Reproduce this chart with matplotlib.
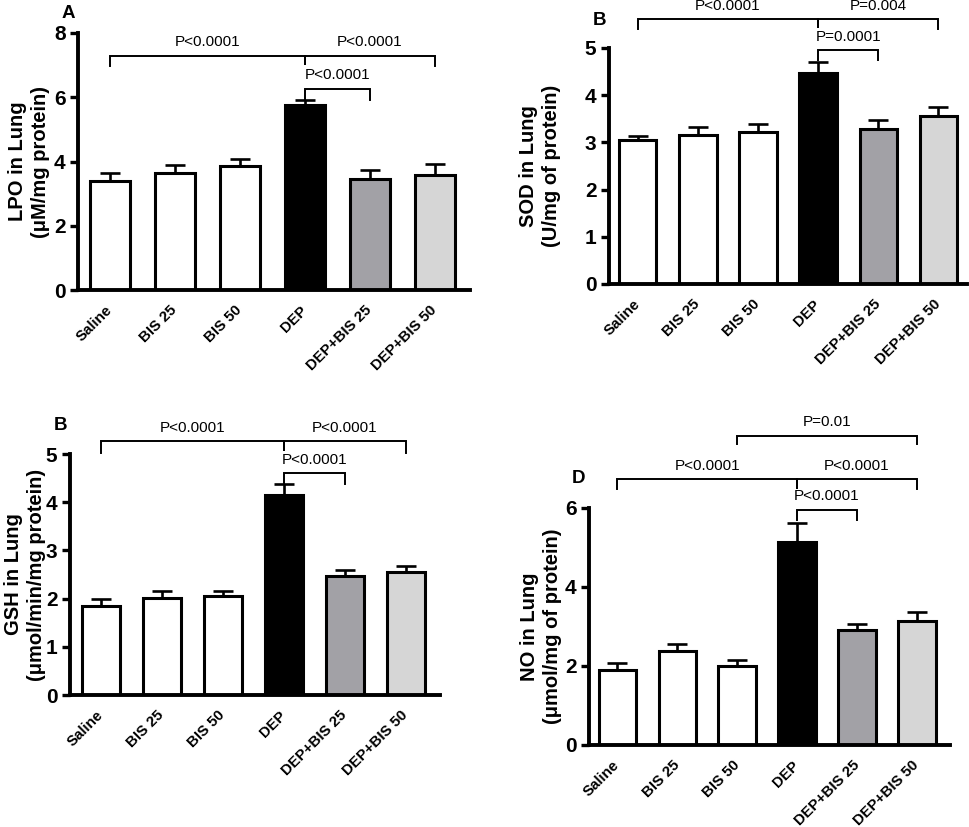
import matplotlib
matplotlib.use("Agg")
import matplotlib.pyplot as plt

plt.rcParams['font.family'] = ['Liberation Sans', 'DejaVu Sans']

groups = ["Saline", "BIS 25", "BIS 50", "DEP", "DEP+BIS 25", "DEP+BIS 50"]
bar_colors = ["white", "white", "white", "black", "#a2a1a6", "#d6d6d6"]

lpo_mean = [3.38, 3.64, 3.86, 5.75, 3.47, 3.57]
lpo_sem = [0.26, 0.26, 0.21, 0.17, 0.27, 0.36]

sod_mean = [3.04, 3.16, 3.21, 4.48, 3.28, 3.56]
sod_sem = [0.10, 0.17, 0.18, 0.23, 0.20, 0.18]

gsh_mean = [1.85, 2.01, 2.05, 4.16, 2.46, 2.56]
gsh_sem = [0.15, 0.15, 0.11, 0.21, 0.14, 0.12]

no_mean = [1.90, 2.39, 2.00, 5.13, 2.90, 3.15]
no_sem = [0.17, 0.17, 0.15, 0.49, 0.15, 0.22]

# brackets: (i, j, y, drop_left, drop_right, label)
lpo_br = [(0, 3, 7.29, 0.33, 0.25, "P<0.0001"), (3, 5, 7.29, 0.25, 0.33, "P<0.0001"),
          (3, 4, 6.25, 0.33, 0.33, "P<0.0001")]
sod_br = [(0, 3, 5.62, 0.22, 0.18, "P<0.0001"), (3, 5, 5.62, 0.18, 0.22, "P=0.004"),
          (3, 4, 4.96, 0.21, 0.21, "P=0.0001")]
gsh_br = [(0, 3, 5.26, 0.23, 0.18, "P<0.0001"), (3, 5, 5.26, 0.18, 0.23, "P<0.0001"),
          (3, 4, 4.60, 0.22, 0.22, "P<0.0001")]
no_br = [(2, 5, 7.83, 0.22, 0.22, "P=0.01"),
         (0, 3, 6.73, 0.25, 0.22, "P<0.0001"), (3, 5, 6.73, 0.22, 0.25, "P<0.0001"),
         (3, 4, 5.96, 0.27, 0.27, "P<0.0001")]

panels = [
    dict(rect=[0.0805, 0.6493, 0.4045, 0.3108], mean=lpo_mean, sem=lpo_sem, br=lpo_br,
         ylim=(0, 8), yticks=[0, 2, 4, 6, 8], xlim=(-0.49, 5.54),
         ylabel="LPO in Lung\n(\u03bcM/mg protein)", label_x=-0.071,
         letter="A", letter_xy=(0.070, 0.984), tdy=0.22),
    dict(rect=[0.6285, 0.6566, 0.3695, 0.2854], mean=sod_mean, sem=sod_sem, br=sod_br,
         ylim=(0, 5), yticks=[0, 1, 2, 3, 4, 5], xlim=(-0.48, 5.48),
         ylabel="SOD in Lung\n(U/mg of protein)", label_x=-0.135,
         letter="B", letter_xy=(0.619, 0.975), tdy=0.13),
    dict(rect=[0.0722, 0.1596, 0.3818, 0.2914], mean=gsh_mean, sem=gsh_sem, br=gsh_br,
         ylim=(0, 5), yticks=[0, 1, 2, 3, 4, 5], xlim=(-0.51, 5.56),
         ylabel="GSH in Lung\n(\u03bcmol/min/mg protein)", label_x=-0.065,
         letter="B", letter_xy=(0.062, 0.486), tdy=0.13),
    dict(rect=[0.6078, 0.0992, 0.3725, 0.2866], mean=no_mean, sem=no_sem, br=no_br,
         ylim=(0, 6), yticks=[0, 2, 4, 6], xlim=(-0.47, 5.55),
         ylabel="NO in Lung\n(\u03bcmol/mg of protein)", label_x=-0.075,
         letter="D", letter_xy=(0.597, 0.421), tdy=0.16),
]

fig = plt.figure(figsize=(9.69, 8.27), dpi=100)

for p in panels:
    ax = fig.add_axes(p["rect"])
    x = list(range(len(groups)))
    ax.bar(x, p["mean"], width=0.62, color=bar_colors, edgecolor="black", linewidth=2.2, zorder=2)
    ax.errorbar(x, p["mean"], yerr=[[0] * len(groups), p["sem"]], fmt="none", ecolor="black",
                elinewidth=1.9, capsize=7, capthick=1.9, zorder=1)
    ax.set_xlim(*p["xlim"])
    ax.set_ylim(*p["ylim"])
    ax.set_yticks(p["yticks"])
    ax.set_yticklabels([str(t) for t in p["yticks"]], fontsize=15, fontweight="bold")
    ax.set_xticks(x)
    ax.set_xticklabels(groups, rotation=45, ha="right", va="center", rotation_mode="anchor",
                       fontsize=10.8, fontweight="bold")
    ax.tick_params(axis="x", length=0, pad=13)
    ax.tick_params(axis="y", length=6, width=2.4, direction="out", pad=3)
    for s in ["top", "right"]:
        ax.spines[s].set_visible(False)
    for s in ["left", "bottom"]:
        ax.spines[s].set_linewidth(2.8)
    ax.set_ylabel(p["ylabel"], fontsize=14.5, fontweight="bold", linespacing=1.25)
    ax.yaxis.set_label_coords(p["label_x"], 0.5)
    for (i, j, y, dl, dr, lab) in p["br"]:
        ax.plot([i, i, j, j], [y - dl, y, y, y - dr], color="black", lw=1.4,
                clip_on=False, solid_joinstyle="miter")
        ax.text((i + j) / 2, y + p["tdy"], lab, ha="center", va="bottom", fontsize=11,
                clip_on=False)
    fig.text(p["letter_xy"][0], p["letter_xy"][1], p["letter"], fontsize=13.5, fontweight="bold",
             ha="center", va="center")

fig.savefig("out.png", dpi=100)
